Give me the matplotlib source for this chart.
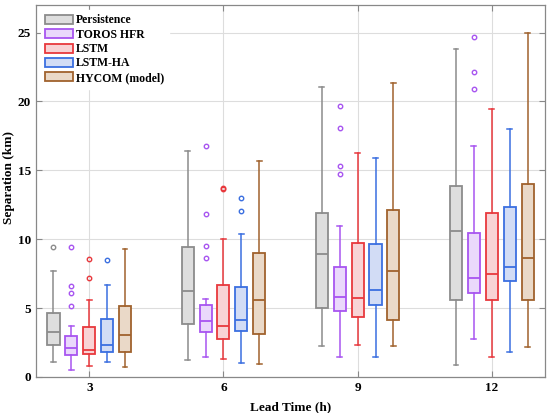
import numpy as np
import matplotlib
matplotlib.use('Agg')
import matplotlib.pyplot as plt
from matplotlib.patches import Patch

plt.rcParams['font.family'] = ['Liberation Serif', 'DejaVu Serif']
plt.rcParams['font.weight'] = 'bold'

lead_times = [3, 6, 9, 12]
models = ['Persistence', 'TOROS HFR', 'LSTM', 'LSTM-HA', 'HYCOM (model)']

# box statistics per model, one entry per lead time: (whislo, q1, med, q3, whishi)
persistence = [(1.11, 2.32, 3.26, 4.61, 7.66), (1.26, 3.84, 6.26, 9.42, 16.40),
               (2.27, 5.00, 8.91, 11.93, 21.05), (0.89, 5.60, 10.58, 13.86, 23.81)]
toros = [(0.48, 1.62, 2.13, 2.97, 3.72), (1.47, 3.26, 4.03, 5.24, 5.68),
         (1.43, 4.78, 5.77, 7.95, 10.99), (2.75, 6.06, 7.20, 10.48, 16.74)]
lstm = [(0.77, 1.69, 1.93, 3.62, 5.56), (1.30, 2.75, 3.70, 6.64, 9.98),
        (2.29, 4.35, 5.72, 9.69, 16.26), (1.45, 5.56, 7.44, 11.93, 19.48)]
lstm_ha = [(1.11, 1.81, 2.32, 4.23, 6.64), (1.01, 3.33, 4.11, 6.55, 10.41),
           (1.45, 5.22, 6.33, 9.64, 15.90), (1.79, 6.96, 7.97, 12.32, 17.99)]
hycom = [(0.75, 1.81, 3.02, 5.12, 9.30), (0.94, 3.14, 5.58, 9.01, 15.70),
         (2.27, 4.11, 7.68, 12.15, 21.34), (2.17, 5.60, 8.67, 14.00, 24.98)]

outliers_persistence = [[9.40], [], [], []]
outliers_toros = [[9.44, 6.59, 6.06, 5.12], [16.77, 11.84, 9.54, 8.67],
                  [19.67, 18.08, 15.34, 14.76], [24.66, 22.12, 20.88]]
outliers_lstm = [[8.57, 7.22], [13.62, 13.68], [], []]
outliers_lstm_ha = [[8.50], [12.99, 12.03], [], []]
outliers_hycom = [[], [], [], []]

all_stats = [persistence, toros, lstm, lstm_ha, hycom]
all_outliers = [outliers_persistence, outliers_toros, outliers_lstm,
                outliers_lstm_ha, outliers_hycom]

edge_colors = ['#8c8c8c', '#a855f0', '#e8383d', '#3b6fe0', '#a0622d']
face_colors = ['#dedede', '#ead8fb', '#f8d3d5', '#d2dcf5', '#ead9c8']

offsets = [-0.8, -0.4, 0.0, 0.4, 0.8]
width = 0.27

fig = plt.figure(figsize=(5.5, 4.13), dpi=100)
ax = fig.add_axes([0.0655, 0.0872, 0.9255, 0.9008])

for stats, outs, ec, fc, off in zip(all_stats, all_outliers, edge_colors, face_colors, offsets):
    bstats = []
    for (lo, q1, med, q3, hi), fl in zip(stats, outs):
        bstats.append({'whislo': lo, 'q1': q1, 'med': med, 'q3': q3,
                       'whishi': hi, 'fliers': fl})
    pos = [t + off for t in lead_times]
    ax.bxp(bstats, positions=pos, widths=width, patch_artist=True,
           showfliers=True, manage_ticks=False,
           boxprops=dict(facecolor=fc, edgecolor=ec, linewidth=1.3),
           medianprops=dict(color=ec, linewidth=1.3),
           whiskerprops=dict(color=ec, linewidth=1.1),
           capprops=dict(color=ec, linewidth=1.1),
           capwidths=0.11,
           flierprops=dict(marker='o', markersize=3.2, markerfacecolor='none',
                           markeredgecolor=ec, markeredgewidth=1.0))

ax.set_xlim(1.81, 13.19)
ax.set_ylim(0, 27)
ax.set_xticks(lead_times)
ax.set_yticks([0, 5, 10, 15, 20, 25])
ax.tick_params(direction='in', top=True, right=True, length=4,
               color='#888888', labelsize=9.5)
for lab in ax.get_xticklabels() + ax.get_yticklabels():
    lab.set_fontweight('bold')
ax.grid(True, color='#dddddd', linewidth=0.8)
ax.set_axisbelow(True)
for sp in ax.spines.values():
    sp.set_color('#888888')
    sp.set_linewidth(0.9)

ax.set_xlabel('Lead Time (h)', fontsize=9.5, fontweight='bold', labelpad=5)
ax.set_ylabel('Separation (km)', fontsize=9.5, fontweight='bold')
ax.yaxis.set_label_coords(-0.041, 0.535)

handles = [Patch(facecolor=fc, edgecolor=ec, linewidth=1.3, label=m)
           for m, ec, fc in zip(models, edge_colors, face_colors)]
leg = ax.legend(handles=handles, loc='upper left', frameon=True,
                framealpha=1, edgecolor='white', handlelength=2.3, handleheight=0.8,
                labelspacing=0.2, handletextpad=0.3, borderaxespad=0.4,
                prop={'weight': 'bold', 'size': 8.5})

fig.savefig('out.png', dpi=100)
